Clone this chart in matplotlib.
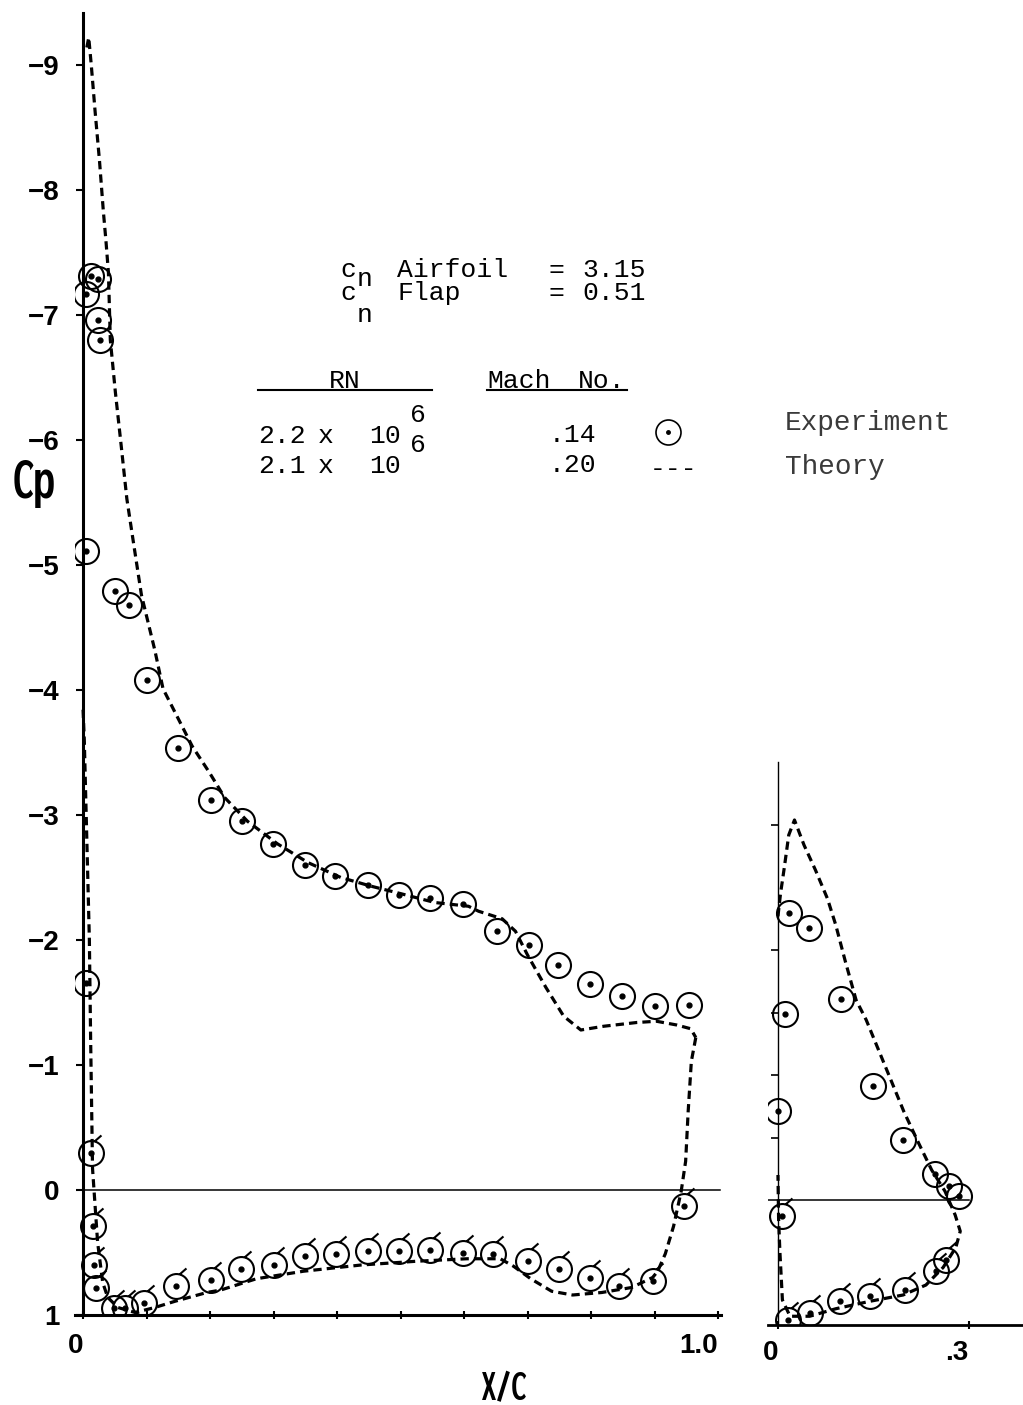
import matplotlib
matplotlib.use("Agg")
import matplotlib.pyplot as plt
from matplotlib.path import Path
from matplotlib import font_manager

# ---- main airfoil, experiment (upper surface, plain circles) ----
up_x = [0.004, 0.005, 0.013, 0.023, 0.004, 0.024, 0.026, 0.051, 0.073, 0.101,
        0.150, 0.201, 0.251, 0.299, 0.349, 0.397, 0.449, 0.498, 0.546, 0.599,
        0.652, 0.703, 0.748, 0.798, 0.849, 0.901, 0.954]
up_cp = [-1.66, -5.11, -7.31, -7.29, -7.17, -6.96, -6.80, -4.79, -4.68, -4.08,
         -3.54, -3.12, -2.95, -2.77, -2.60, -2.51, -2.44, -2.36, -2.34, -2.29,
         -2.07, -1.96, -1.80, -1.65, -1.55, -1.47, -1.48]

# ---- main airfoil, experiment (lower surface, flagged circles) ----
lo_x = [0.012, 0.015, 0.018, 0.021, 0.049, 0.066, 0.096, 0.147, 0.201, 0.248,
        0.300, 0.350, 0.399, 0.449, 0.498, 0.547, 0.599, 0.645, 0.701, 0.750,
        0.798, 0.844, 0.897, 0.947]
lo_cp = [-0.30, 0.29, 0.60, 0.78, 0.94, 0.94, 0.90, 0.77, 0.72, 0.63,
         0.60, 0.53, 0.51, 0.49, 0.49, 0.48, 0.50, 0.51, 0.57, 0.63,
         0.70, 0.77, 0.73, 0.13]

# ---- main airfoil, theory: peak -> trailing edge ----
th_up_x = [0.006, 0.009, 0.013, 0.019, 0.026, 0.032, 0.036, 0.040, 0.043, 0.051,
           0.060, 0.069, 0.080, 0.092, 0.113, 0.126, 0.154, 0.172, 0.199, 0.223,
           0.259, 0.306, 0.354, 0.406, 0.454, 0.501, 0.554, 0.607, 0.623, 0.660,
           0.681, 0.700, 0.729, 0.757, 0.784, 0.820, 0.872, 0.903, 0.935, 0.957,
           0.965]
th_up_cp = [-9.14, -9.22, -9.00, -8.63, -8.23, -7.83, -7.60, -7.34, -6.80, -6.38,
            -5.96, -5.53, -5.16, -4.76, -4.32, -4.01, -3.73, -3.55, -3.34, -3.14,
            -2.95, -2.77, -2.62, -2.50, -2.43, -2.37, -2.30, -2.27, -2.23, -2.17,
            -2.07, -1.88, -1.62, -1.39, -1.28, -1.31, -1.34, -1.35, -1.32, -1.29,
            -1.22]

# ---- main airfoil, theory: trailing edge -> lower surface -> leading edge ----
th_lo_x = [0.965, 0.958, 0.953, 0.949, 0.942, 0.930, 0.917, 0.905, 0.897, 0.864,
           0.817, 0.771, 0.738, 0.705, 0.678, 0.657, 0.605, 0.525, 0.438, 0.347,
           0.273, 0.217, 0.195, 0.145, 0.113, 0.082, 0.055, 0.039, 0.031, 0.023,
           0.015, 0.012, 0.010, 0.006, 0.002, 0.0]
th_lo_cp = [-1.22, -1.03, -0.63, -0.23, 0.01, 0.29, 0.51, 0.65, 0.70, 0.78,
            0.82, 0.84, 0.81, 0.71, 0.61, 0.55, 0.55, 0.57, 0.60, 0.65,
            0.71, 0.80, 0.82, 0.89, 0.94, 0.98, 0.94, 0.86, 0.74, 0.42,
            -0.17, -1.20, -2.00, -2.80, -3.60, -3.85]

# ---- flap, experiment ----
fl_up_x = [0.017, 0.049, 0.099, 0.011, 0.0, 0.150, 0.197, 0.247, 0.269, 0.285]
fl_up_cp = [-2.30, -2.18, -1.61, -1.49, -0.71, -0.91, -0.48, -0.21, -0.11, -0.03]
fl_lo_x = [0.006, 0.264, 0.249, 0.200, 0.145, 0.097, 0.050, 0.016]
fl_lo_cp = [0.13, 0.48, 0.57, 0.72, 0.77, 0.81, 0.90, 0.96]

# ---- flap, theory ----
fl_th_x = [0.0, 0.004, 0.010, 0.017, 0.026, 0.041, 0.059, 0.078, 0.091, 0.106,
           0.123, 0.139, 0.160, 0.177, 0.198, 0.221, 0.242, 0.263, 0.279, 0.287,
           0.280, 0.260, 0.233, 0.197, 0.145, 0.091, 0.050, 0.019, 0.007, 0.003,
           0.001, 0.0]
fl_th_cp = [-2.27, -2.45, -2.66, -2.92, -3.04, -2.84, -2.64, -2.41, -2.20, -1.91,
            -1.60, -1.44, -1.18, -0.97, -0.71, -0.46, -0.24, -0.07, 0.12, 0.25,
            0.38, 0.54, 0.68, 0.76, 0.81, 0.87, 0.93, 0.93, 0.80, 0.41,
            0.15, -0.20]

# ---- ticks ----
y_ticks = [-9, -8, -7, -6, -5, -4, -3, -2, -1, 0, 1]
y_labels = ["\u22129", "\u22128", "\u22127", "\u22126", "\u22125", "\u22124",
            "\u22123", "\u22122", "\u22121", "0", "1"]
x_ticks = [0.0, 0.1, 0.2, 0.3, 0.4, 0.5, 0.6, 0.7, 0.8, 0.9, 1.0]
x_labels = ["0", "", "", "", "", "", "", "", "", "", "1.0"]
fl_y_ticks = [-3, -2, -1.5, -1, -0.5]
fl_x_ticks = [0.0, 0.3]
fl_x_labels = ["0", ".3"]

# ---- fonts ----
names = {f.name for f in font_manager.fontManager.ttflist}
MONO = "Liberation Mono" if "Liberation Mono" in names else "DejaVu Sans Mono"
SANS = "Liberation Sans" if "Liberation Sans" in names else "DejaVu Sans"
cond_file = None
for suffix in ("ExtraCondensedBold.ttf", "CondensedBold.ttf"):
    for f in font_manager.fontManager.ttflist:
        if f.fname.endswith(suffix) and "Semi" not in f.fname.split("-")[-1]:
            cond_file = f.fname
            break
    if cond_file:
        break
if cond_file:
    label_font = font_manager.FontProperties(fname=cond_file)
else:
    label_font = font_manager.FontProperties(family=SANS, weight="bold")

W, H = 1023.0, 1405.0


def frac(x0, y0, x1, y1):
    return [x0 / W, 1 - y1 / H, (x1 - x0) / W, (y1 - y0) / H]


# custom marker: circle with a little flag at upper right (lower surface)
flag_marker = Path.make_compound_path(Path.unit_circle(),
                                      Path([(0.25, 0.97), (0.8, 1.45)]))

fig = plt.figure(figsize=(10.23, 14.05), dpi=100)
fig.patch.set_facecolor("white")

dash = (0, (2.6, 1.6))

# ---------------- main airfoil ----------------
ax = fig.add_axes(frac(75.4, 12.5, 721.2, 1315))
ax.set_xlim(-0.012, 1.005)
ax.set_ylim(1, -9.42)
for s in ("top", "right"):
    ax.spines[s].set_visible(False)
ax.spines["left"].set_position(("data", 0))
ax.spines["left"].set_linewidth(2.2)
ax.spines["bottom"].set_linewidth(2.2)
ax.axhline(0, color="black", lw=1.1, xmin=0.012, xmax=0.998)

ax.plot(th_up_x, th_up_cp, color="black", lw=2.3, ls=dash)
ax.plot(th_lo_x, th_lo_cp, color="black", lw=2.3, ls=dash)

ax.plot(up_x, up_cp, ls="none", marker="o", ms=18, mfc="none", mec="black", mew=1.5)
ax.plot(up_x, up_cp, ls="none", marker="o", ms=3.5, color="black")
ax.plot(lo_x, lo_cp, ls="none", marker=flag_marker, ms=26, mfc="none", mec="black", mew=1.5)
ax.plot(lo_x, lo_cp, ls="none", marker="o", ms=3.5, color="black")

ax.set_yticks(y_ticks)
ax.set_yticklabels(y_labels, fontsize=20, fontweight="bold", family=SANS)
ax.set_xticks(x_ticks)
ax.set_xticklabels(x_labels, fontsize=20, fontweight="bold", family=SANS, ha="right")
ax.tick_params(axis="y", direction="out", length=5, width=1.5, pad=12)
ax.tick_params(axis="x", direction="inout", length=6, width=1.5, pad=10)

# ---------------- flap ----------------
ax2 = fig.add_axes(frac(767.8, 762, 1023, 1325))
ax2.set_xlim(-0.016, 0.3858)
ax2.set_ylim(1, -3.504)
for s in ("top", "right"):
    ax2.spines[s].set_visible(False)
ax2.spines["left"].set_position(("data", 0))
ax2.spines["left"].set_linewidth(1.0)
ax2.spines["bottom"].set_linewidth(2.0)
ax2.plot([-0.016, 0.30], [0, 0], color="black", lw=1.1)

ax2.plot(fl_th_x, fl_th_cp, color="black", lw=2.3, ls=dash)
ax2.plot(fl_up_x, fl_up_cp, ls="none", marker="o", ms=18, mfc="none", mec="black", mew=1.5)
ax2.plot(fl_up_x, fl_up_cp, ls="none", marker="o", ms=3.5, color="black")
ax2.plot(fl_lo_x, fl_lo_cp, ls="none", marker=flag_marker, ms=26, mfc="none", mec="black", mew=1.5)
ax2.plot(fl_lo_x, fl_lo_cp, ls="none", marker="o", ms=3.5, color="black")

ax2.set_yticks(fl_y_ticks)
ax2.set_yticklabels([])
ax2.set_xticks(fl_x_ticks)
ax2.set_xticklabels(fl_x_labels, fontsize=20, fontweight="bold", family=SANS, ha="right")
ax2.tick_params(axis="y", direction="out", length=5, width=1.2)
ax2.tick_params(axis="x", direction="inout", length=6, width=1.5, pad=8)

# ---------------- annotations (pixel overlay) ----------------
ov = fig.add_axes([0, 0, 1, 1])
ov.set_xlim(0, W)
ov.set_ylim(H, 0)
ov.axis("off")

mono = dict(family=MONO, fontsize=19, va="baseline", ha="left", color="black")
# c_n lines
ov.text(340, 277, "c", **mono)
ov.text(357, 286, "n", **mono)
ov.text(397, 277, "Airfoil", **mono)
ov.text(548, 277, "=", **mono)
ov.text(582, 277, "3.15", **mono)
ov.text(340, 300, "c", **mono)
ov.text(357, 322, "n", **mono)
ov.text(397, 300, "Flap", **mono)
ov.text(548, 300, "=", **mono)
ov.text(582, 300, "0.51", **mono)

# RN / Mach table
ov.text(345, 388, "RN", **dict(mono, ha="center"))
ov.text(487, 388, "Mach", **mono)
ov.text(578, 388, "No.", **mono)
ov.plot([258, 432], [390, 390], color="black", lw=1.5)
ov.plot([487, 627], [390, 390], color="black", lw=1.5)
ov.text(258, 443, "2.2", **mono)
ov.text(318, 443, "x", **mono)
ov.text(369, 443, "10", **mono)
ov.text(410, 422, "6", **mono)
ov.text(258, 473, "2.1", **mono)
ov.text(318, 473, "x", **mono)
ov.text(369, 473, "10", **mono)
ov.text(410, 452, "6", **mono)
ov.text(549, 442, ".14", **mono)
ov.text(549, 472, ".20", **mono)
ov.text(650, 476, "---", **mono)

ov.plot([668], [432], ls="none", marker="o", ms=18, mfc="none", mec="black", mew=1.2)
ov.plot([668], [432], ls="none", marker="o", ms=2.5, color="black")

faded = dict(mono, fontsize=20, color="#3a3a3a")
ov.text(785, 430, "Experiment", **faded)
ov.text(785, 474, "Theory", **faded)

ov.text(13, 498, "Cp", fontproperties=label_font, fontsize=44, va="baseline", ha="left")
ov.text(504, 1400, "X/C", fontproperties=label_font, fontsize=32, va="baseline", ha="center")

fig.savefig("out.png", dpi=100)
